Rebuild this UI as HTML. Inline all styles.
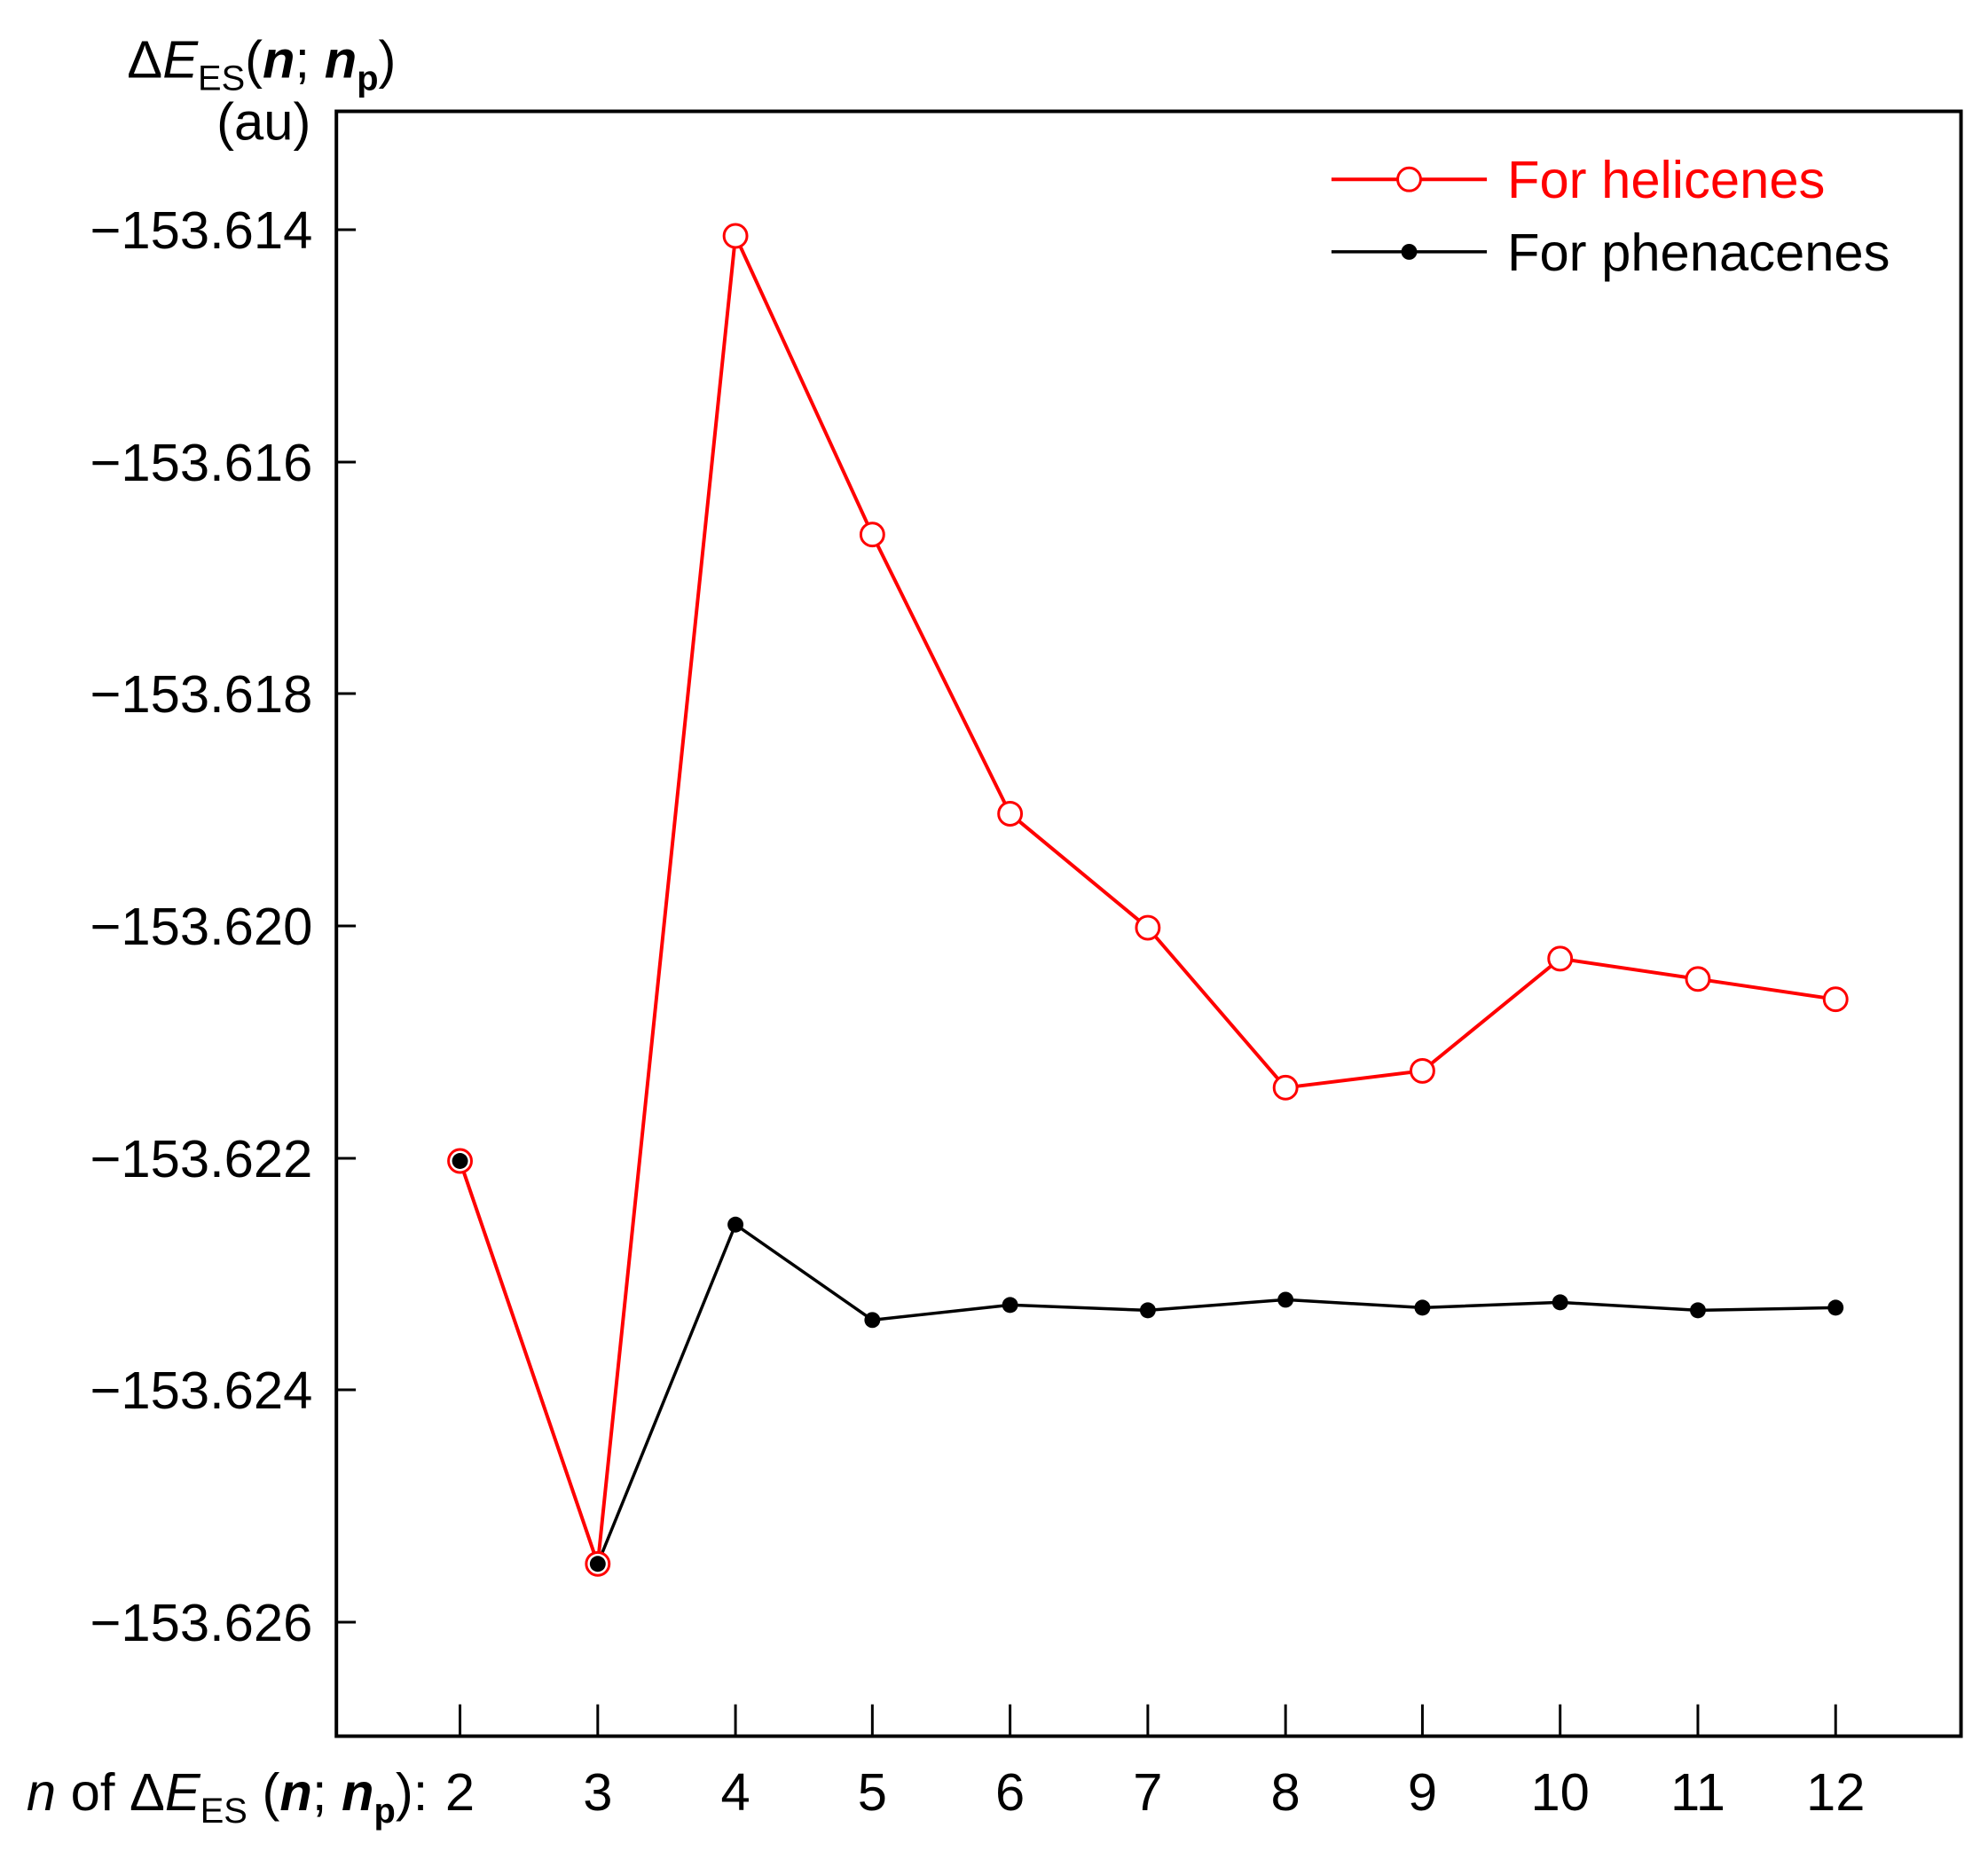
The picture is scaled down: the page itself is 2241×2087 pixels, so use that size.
<!DOCTYPE html>
<html><head><meta charset="utf-8"><style>
html,body{margin:0;padding:0;background:#fff;}
svg{display:block;}
text{font-family:"Liberation Sans",Arial,sans-serif;}
</style></head><body>
<svg width="2241" height="2087" viewBox="0 0 2241 2087" xmlns="http://www.w3.org/2000/svg">
<rect width="2241" height="2087" fill="#fff"/>
<g transform="scale(0.9953,0.9962)">
<rect x="381" y="126" width="1840" height="1839" fill="none" stroke="#000" stroke-width="4"/>
<g stroke="#000" stroke-width="3">
<line x1="381" y1="260" x2="403" y2="260"/>
<line x1="381" y1="523" x2="403" y2="523"/>
<line x1="381" y1="785" x2="403" y2="785"/>
<line x1="381" y1="1048" x2="403" y2="1048"/>
<line x1="381" y1="1311" x2="403" y2="1311"/>
<line x1="381" y1="1573" x2="403" y2="1573"/>
<line x1="381" y1="1836" x2="403" y2="1836"/>
</g>
<g font-size="60" text-anchor="end" fill="#000">
<text x="354" y="281" textLength="252" lengthAdjust="spacingAndGlyphs">−153.614</text>
<text x="354" y="544" textLength="252" lengthAdjust="spacingAndGlyphs">−153.616</text>
<text x="354" y="806" textLength="252" lengthAdjust="spacingAndGlyphs">−153.618</text>
<text x="354" y="1069" textLength="252" lengthAdjust="spacingAndGlyphs">−153.620</text>
<text x="354" y="1332" textLength="252" lengthAdjust="spacingAndGlyphs">−153.622</text>
<text x="354" y="1594" textLength="252" lengthAdjust="spacingAndGlyphs">−153.624</text>
<text x="354" y="1857" textLength="252" lengthAdjust="spacingAndGlyphs">−153.626</text>
</g>
<g stroke="#000" stroke-width="3">
<line x1="521" y1="1965" x2="521" y2="1929"/>
<line x1="677" y1="1965" x2="677" y2="1929"/>
<line x1="833" y1="1965" x2="833" y2="1929"/>
<line x1="988" y1="1965" x2="988" y2="1929"/>
<line x1="1144" y1="1965" x2="1144" y2="1929"/>
<line x1="1300" y1="1965" x2="1300" y2="1929"/>
<line x1="1456" y1="1965" x2="1456" y2="1929"/>
<line x1="1611" y1="1965" x2="1611" y2="1929"/>
<line x1="1767" y1="1965" x2="1767" y2="1929"/>
<line x1="1923" y1="1965" x2="1923" y2="1929"/>
<line x1="2079" y1="1965" x2="2079" y2="1929"/>
</g>
<g font-size="60" text-anchor="middle" fill="#000">
<text x="521" y="2049">2</text>
<text x="677" y="2049">3</text>
<text x="833" y="2049">4</text>
<text x="988" y="2049">5</text>
<text x="1144" y="2049">6</text>
<text x="1300" y="2049">7</text>
<text x="1456" y="2049">8</text>
<text x="1611" y="2049">9</text>
<text x="1767" y="2049">10</text>
<text x="1923" y="2049">11</text>
<text x="2079" y="2049">12</text>
</g>
<text x="30" y="2049" font-size="60" fill="#000"><tspan font-style="italic">n</tspan> of Δ<tspan font-style="italic">E</tspan><tspan font-size="40" dy="14">ES</tspan><tspan dy="-14"> (</tspan><tspan font-style="italic" font-weight="bold">n</tspan>; <tspan font-style="italic" font-weight="bold">n</tspan><tspan font-size="40" font-weight="bold" dy="14">p</tspan><tspan dy="-14">):</tspan></text>
<text x="144" y="88" font-size="60" fill="#000">Δ<tspan font-style="italic">E</tspan><tspan font-size="40" dy="14">ES</tspan><tspan dy="-14">(</tspan><tspan font-style="italic" font-weight="bold">n</tspan>; <tspan font-style="italic" font-weight="bold">n</tspan><tspan font-size="40" font-weight="bold" dy="14">p</tspan><tspan dy="-14">)</tspan></text>
<text x="352" y="158" font-size="60" text-anchor="end" fill="#000">(au)</text>
<polyline fill="none" stroke="#000" stroke-width="3.5" points="521,1314 677,1770 833,1386 988,1494 1144,1477 1300,1483 1456,1471 1611,1480 1767,1474 1923,1483 2079,1480"/>
<polyline fill="none" stroke="#f00" stroke-width="4" points="521,1314 677,1770 833,267 988,605 1144,921 1300,1050 1456,1231 1611,1212 1767,1085 1923,1108 2079,1131"/>
<g fill="#fff" stroke="#f00" stroke-width="3">
<circle cx="521" cy="1314" r="13"/><circle cx="677" cy="1770" r="13"/><circle cx="833" cy="267" r="13"/><circle cx="988" cy="605" r="13"/><circle cx="1144" cy="921" r="13"/><circle cx="1300" cy="1050" r="13"/><circle cx="1456" cy="1231" r="13"/><circle cx="1611" cy="1212" r="13"/><circle cx="1767" cy="1085" r="13"/><circle cx="1923" cy="1108" r="13"/><circle cx="2079" cy="1131" r="13"/>
</g>
<g fill="#000">
<circle cx="521" cy="1314" r="9"/><circle cx="677" cy="1770" r="9"/><circle cx="833" cy="1386" r="9"/><circle cx="988" cy="1494" r="9"/><circle cx="1144" cy="1477" r="9"/><circle cx="1300" cy="1483" r="9"/><circle cx="1456" cy="1471" r="9"/><circle cx="1611" cy="1480" r="9"/><circle cx="1767" cy="1474" r="9"/><circle cx="1923" cy="1483" r="9"/><circle cx="2079" cy="1480" r="9"/>
</g>
<line x1="1508" y1="203" x2="1684" y2="203" stroke="#f00" stroke-width="4"/>
<circle cx="1596" cy="203" r="13" fill="#fff" stroke="#f00" stroke-width="3"/>
<text x="1707" y="224" font-size="60" fill="#f00">For helicenes</text>
<line x1="1508" y1="285" x2="1684" y2="285" stroke="#000" stroke-width="3.5"/>
<circle cx="1596" cy="285" r="9" fill="#000"/>
<text x="1707" y="306" font-size="60" fill="#000">For phenacenes</text>
</g>
</svg>
</body></html>
